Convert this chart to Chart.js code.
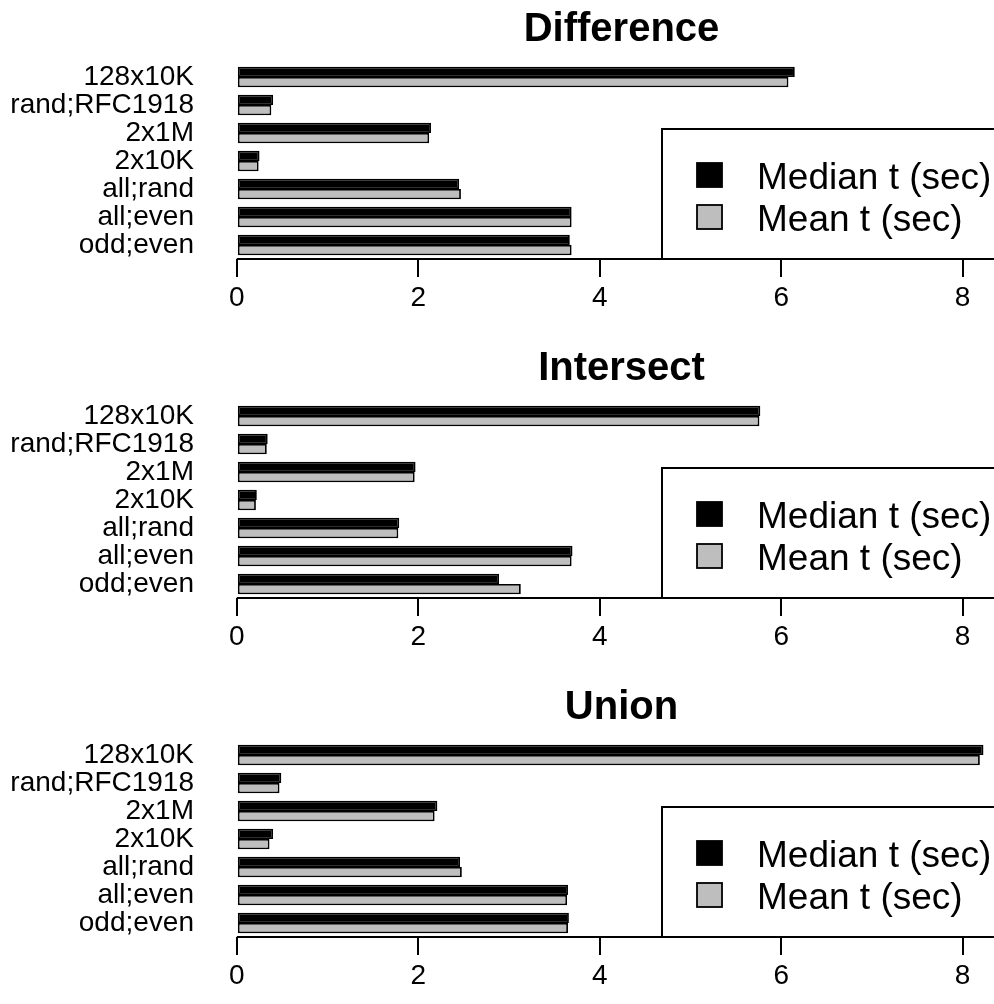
<!DOCTYPE html>
<html>
<head>
<meta charset="utf-8">
<title>Difference / Intersect / Union timings</title>
<script src="https://cdn.jsdelivr.net/npm/chart.js@4.4.1/dist/chart.umd.min.js"></script>
<style>
  html, body { margin: 0; padding: 0; background: #fff; overflow: hidden; }
  #wrap { position: relative; width: 994px; height: 1004px; overflow: hidden; }
  canvas { position: absolute; left: 0; }
</style>
</head>
<body>
<div id="wrap">
  <canvas id="panel0" width="1040" height="339" style="top:0px"></canvas>
  <canvas id="panel1" width="1040" height="339" style="top:339px"></canvas>
  <canvas id="panel2" width="1040" height="339" style="top:678px"></canvas>
</div>
<script>
// categories, top to bottom
const categories = ["128x10K", "rand;RFC1918", "2x1M", "2x10K", "all;rand", "all;even", "odd;even"];
const seriesNames = ["Median t (sec)", "Mean t (sec)"];
const panelTitles = ["Difference", "Intersect", "Union"];
const xTicks = [0, 2, 4, 6, 8];

// values (seconds)
const differenceMedian = [6.15, 0.40, 2.14, 0.25, 2.45, 3.69, 3.67];
const differenceMean   = [6.08, 0.38, 2.12, 0.24, 2.47, 3.69, 3.69];
const intersectMedian  = [5.77, 0.34, 1.97, 0.22, 1.79, 3.70, 2.89];
const intersectMean    = [5.76, 0.33, 1.96, 0.21, 1.78, 3.69, 3.13];
const unionMedian      = [8.23, 0.49, 2.21, 0.40, 2.46, 3.65, 3.66];
const unionMean        = [8.19, 0.47, 2.18, 0.36, 2.48, 3.64, 3.65];

const FONT = '"Liberation Sans", Arial, sans-serif';
Chart.defaults.font.family = FONT;
Chart.defaults.color = "#000";

// R-style decorations: title over the plot region, axis line 0..8, boxed legend bottom-right
const rPanel = {
  id: "rPanel",
  afterDraw(chart, args, opts) {
    const { ctx, chartArea } = chart;
    const x = chart.scales.x;
    ctx.save();

    ctx.fillStyle = "#000";
    ctx.font = "bold 40px " + FONT;
    ctx.textAlign = "center";
    ctx.textBaseline = "alphabetic";
    ctx.fillText(opts.title, (chartArea.left + chartArea.right) / 2, 41);

    ctx.strokeStyle = "#000";
    ctx.lineWidth = 2;
    ctx.beginPath();
    ctx.moveTo(x.getPixelForValue(xTicks[0]), chartArea.bottom);
    ctx.lineTo(x.getPixelForValue(xTicks[xTicks.length - 1]), chartArea.bottom);
    ctx.stroke();

    const bw = 375, bh = 130;
    const bx = chartArea.right - bw, by = chartArea.bottom - bh;
    ctx.fillStyle = "#fff";
    ctx.fillRect(bx, by, bw, bh);
    ctx.strokeRect(bx, by, bw, bh);

    chart.data.datasets.forEach((ds, i) => {
      const cy = by + 46 + i * 42;
      ctx.fillStyle = ds.backgroundColor;
      ctx.fillRect(bx + 35, cy - 12, 25, 24);
      ctx.lineWidth = 1.8;
      ctx.strokeRect(bx + 35, cy - 12, 25, 24);
      ctx.fillStyle = "#000";
      ctx.font = "37px " + FONT;
      ctx.textAlign = "left";
      ctx.fillText(ds.label, bx + 95, cy + 13.5);
    });
    ctx.restore();
  }
};

function makePanel(id, title, median, mean) {
  return new Chart(document.getElementById(id), {
    type: "bar",
    data: {
      labels: categories,
      datasets: [
        { label: seriesNames[0], data: median, backgroundColor: "#000000", borderColor: "#000", borderWidth: 1.8, borderSkipped: false },
        { label: seriesNames[1], data: mean, backgroundColor: "#bebebe", borderColor: "#000", borderWidth: 1.8, borderSkipped: false }
      ]
    },
    options: {
      indexAxis: "y",
      responsive: false,
      animation: false,
      layout: { padding: { top: 63, right: 3, left: 0, bottom: 0 } },
      datasets: { bar: { barPercentage: 1, categoryPercentage: 0.74 } },
      plugins: {
        legend: { display: false },
        tooltip: { enabled: false },
        rPanel: { title: title }
      },
      scales: {
        x: {
          type: "linear",
          min: -0.34,
          max: 8.82,
          afterBuildTicks: s => { s.ticks = xTicks.map(v => ({ value: v })); },
          afterFit: s => { s.height = 80; },
          grid: { drawOnChartArea: false, drawTicks: true, tickLength: 18, color: "#000", lineWidth: 2 },
          border: { display: false },
          ticks: { autoSkip: false, maxRotation: 0, padding: 4, color: "#000", font: { size: 28 } }
        },
        y: {
          afterFit: s => { s.width = 206; },
          grid: { display: false },
          border: { display: false },
          ticks: { autoSkip: false, padding: 4, color: "#000", font: { size: 28 } }
        }
      }
    },
    plugins: [rPanel]
  });
}

makePanel("panel0", panelTitles[0], differenceMedian, differenceMean);
makePanel("panel1", panelTitles[1], intersectMedian, intersectMean);
makePanel("panel2", panelTitles[2], unionMedian, unionMean);
</script>
</body>
</html>
